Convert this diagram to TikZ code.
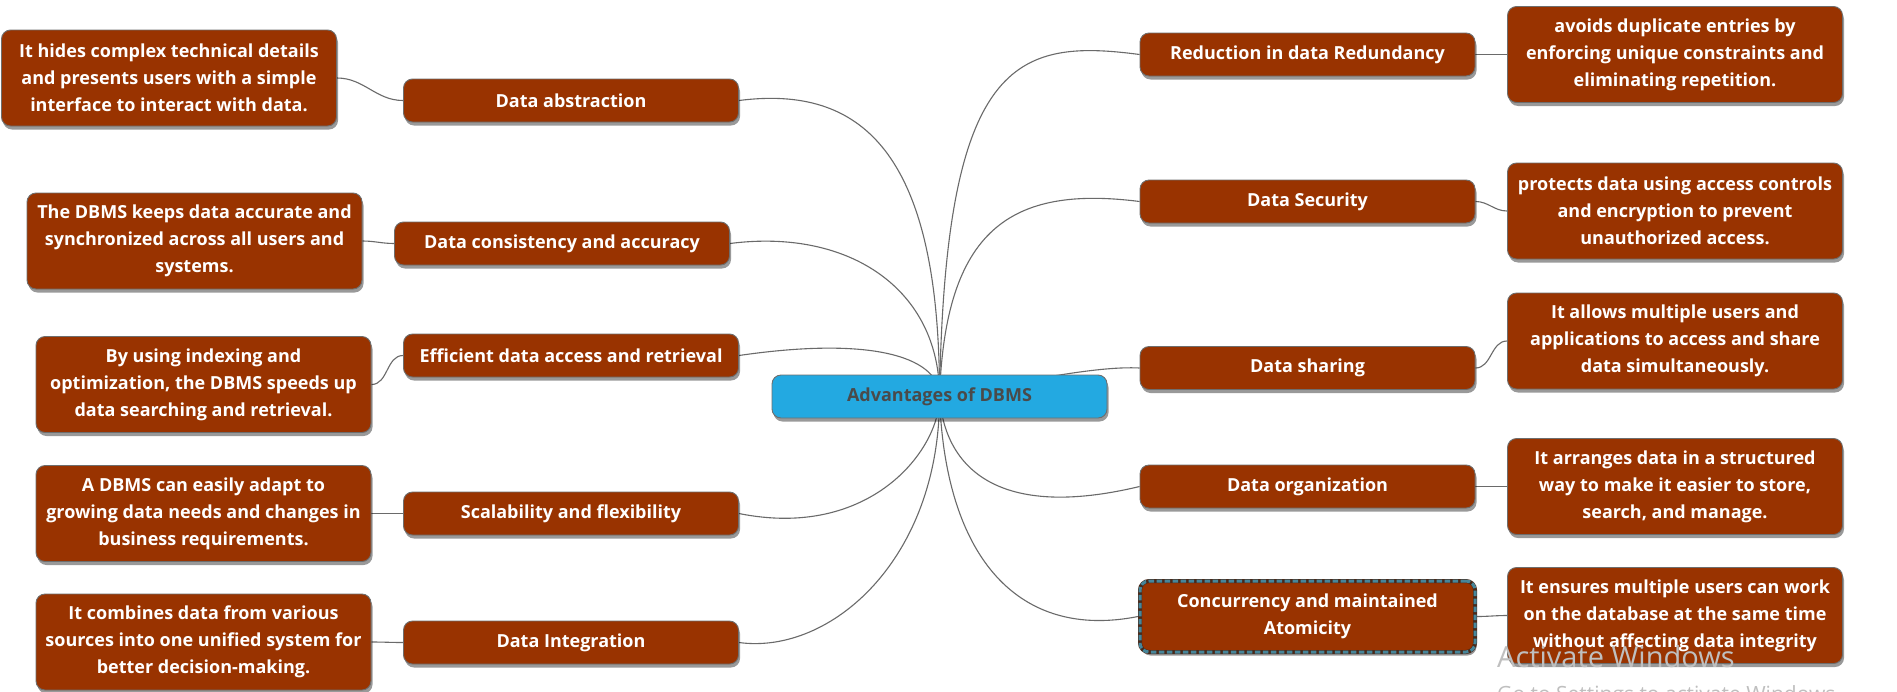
\documentclass[tikz,border=0pt]{standalone}
\usepackage{fontspec}
\setmainfont{Open Sans}
\usetikzlibrary{shadows,backgrounds}
\definecolor{boxbrown}{HTML}{993300}
\definecolor{rootblue}{HTML}{23A9E1}
\definecolor{edgegray}{HTML}{6E6E6E}
\definecolor{linkgray}{HTML}{6A6A6A}
\definecolor{roottext}{HTML}{4A4A4A}
\definecolor{dashteal}{HTML}{46869A}
\definecolor{dashbase}{HTML}{4A2A1A}
\begin{document}
\begin{tikzpicture}[x=1pt,y=-1pt,
  card/.style={rounded corners=9pt, draw=edgegray, line width=0.9pt, fill=boxbrown,
    text=white, font=\fontsize{18}{27}\selectfont\bfseries, align=center,
    inner sep=0pt, minimum width=335pt,
    drop shadow={shadow xshift=1.5pt, shadow yshift=-3.5pt, opacity=0.4, fill=black}},
  topic/.style={card, minimum height=43pt},
  note/.style={card, minimum height=96pt},
  rootbox/.style={card, fill=rootblue, text=roottext, minimum height=43pt},
  concur/.style={topic, minimum height=71pt, draw=dashbase, line width=4pt,
    postaction={draw=dashteal, line width=3pt, dash pattern=on 5.5pt off 2.5pt}},
  link/.style={draw=linkgray, line width=1.1pt},
  watermark/.style={anchor=base west, inner sep=0pt, text=gray!50},
]
\useasboundingbox (0,0) rectangle (1897,691);

% root
\node[rootbox] (root) at (939.5,396.5) {Advantages of DBMS};

% left topics
\node[topic] (m1) at (571,100.5) {Data abstraction};
\node[topic] (m2) at (562,243.5) {Data consistency and accuracy};
\node[topic] (m3) at (571,355.5) {Efficient data access and retrieval};
\node[topic] (m4) at (571,513.5) {Scalability and flexibility};
\node[topic] (m5) at (571,642.5) {Data Integration};

% left notes
\node[note] (d1) at (169,78) {It hides complex technical details\\and presents users with a simple\\interface to interact with data.};
\node[note] (d2) at (194.5,241) {The DBMS keeps data accurate and\\synchronized across all users and\\systems.};
\node[note] (d3) at (203.5,384.5) {By using indexing and\\optimization, the DBMS speeds up\\data searching and retrieval.};
\node[note] (d4) at (203.5,513.5) {A DBMS can easily adapt to\\growing data needs and changes in\\business requirements.};
\node[note] (d5) at (203.5,642) {It combines data from various\\sources into one unified system for\\better decision-making.};

% right topics
\node[topic] (r1) at (1307.5,54.5) {Reduction in data Redundancy};
\node[topic] (r2) at (1307.5,201.5) {Data Security};
\node[topic] (r3) at (1307.5,368) {Data sharing};
\node[topic] (r4) at (1307.5,486.5) {Data organization};
\node[concur] (r5) at (1307.5,616.5) {Concurrency and maintained\\Atomicity};

% right notes
\node[note] (e1) at (1675,54.5) {avoids duplicate entries by\\enforcing unique constraints and\\eliminating repetition.};
\node[note] (e2) at (1675,211) {protects data using access controls\\and encryption to prevent\\unauthorized access.};
\node[note] (e3) at (1675,341) {It allows multiple users and\\applications to access and share\\data simultaneously.};
\node[note] (e4) at (1675,486.5) {It arranges data in a structured\\way to make it easier to store,\\search, and manage.};
\node[note] (e5) at (1675,615.5) {It ensures multiple users can work\\on the database at the same time\\without affecting data integrity};

\begin{scope}[on background layer]
  \fill[white] (0,0) rectangle (1897,691);
  % root to topics
  \draw[link] (root.center) .. controls (940,150) and (860,85) .. (m1.east);
  \draw[link] (root.center) .. controls (940,290) and (850,228) .. (m2.east);
  \draw[link] (root.center) .. controls (940,360) and (880,335) .. (m3.east);
  \draw[link] (root.center) .. controls (940,450) and (870,540) .. (m4.east);
  \draw[link] (root.center) .. controls (940,560) and (830,655) .. (m5.east);
  \draw[link] (root.center) .. controls (945,60) and (1015,38) .. (r1.west);
  \draw[link] (root.center) .. controls (945,230) and (1010,185) .. (r2.west);
  \draw[link] (root.center) .. controls (1040,378) and (1100,366) .. (r3.west);
  \draw[link] (root.center) .. controls (945,470) and (1000,520) .. (r4.west);
  \draw[link] (root.center) .. controls (945,560) and (1020,640) .. (r5.west);
  % topics to notes
  \draw[link] (d1.east) to[out=0,in=180] (m1.west);
  \draw[link] (d2.east) to[out=0,in=180] (m2.west);
  \draw[link] (d3.east) to[out=0,in=180] (m3.west);
  \draw[link] (d4.east) to[out=0,in=180] (m4.west);
  \draw[link] (d5.east) to[out=0,in=180] (m5.west);
  \draw[link] (r1.east) to[out=0,in=180] (e1.west);
  \draw[link] (r2.east) to[out=0,in=180] (e2.west);
  \draw[link] (r3.east) to[out=0,in=180] (e3.west);
  \draw[link] (r4.east) to[out=0,in=180] (e4.west);
  \draw[link] (r5.east) to[out=0,in=180] (e5.west);
\end{scope}

% screen watermark
\node[watermark, font=\fontsize{29}{29}\selectfont] (wm1) at (1497,667) {Activate Windows};
\node[watermark, font=\fontsize{21}{21}\selectfont] (wm2) at (1497,701) {Go to Settings to activate Windows.};
\end{tikzpicture}
\end{document}
